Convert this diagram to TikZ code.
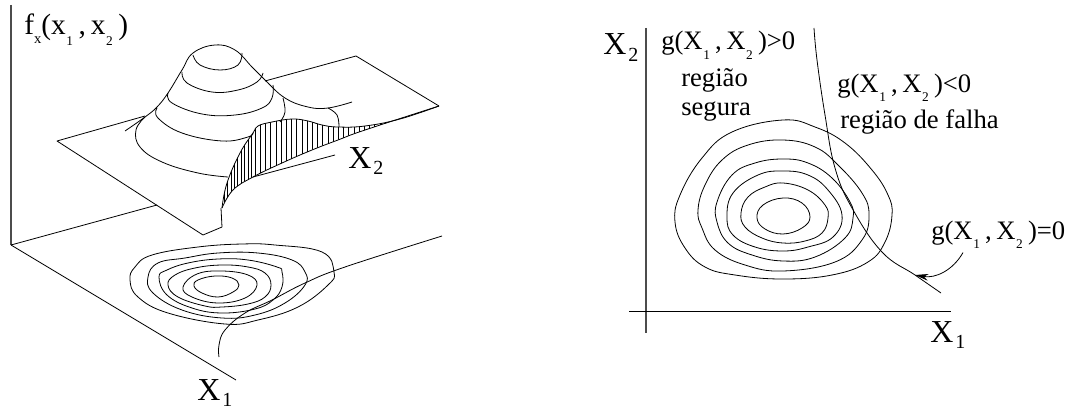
\documentclass[tikz,border=0pt]{standalone}
\usepackage{fontspec}
\setmainfont{Liberation Serif}
\usetikzlibrary{arrows.meta}
\newcommand{\idx}[1]{\kern0.5pt\raisebox{-0.35em}{\fontsize{10}{10}\selectfont #1}\kern0.5pt}
\newcommand{\bigvar}[1]{{\fontsize{24}{24}\selectfont X}\kern1.5pt\raisebox{-5pt}{\fontsize{15}{15}\selectfont #1}}
\begin{document}
\begin{tikzpicture}[
		x=0.75pt, y=-0.75pt,
		tension=0.7,
		l/.style = {line width=0.6pt, line join=round},
		ax/.style = {line width=0.9pt, draw=black!70},
		h/.style = {line width=0.4pt},
		t/.style = {anchor=base west, inner sep=0, font=\fontsize{20}{20}\selectfont},
		f/.style = {anchor=base west, inner sep=0, font=\fontsize{22}{22}\selectfont}
		]
		\useasboundingbox (0,0) rectangle (1073,410);
		
		%Nodes
		\node[f]	(fx)	at	(24, 35)	{f\raisebox{-0.3em}{\fontsize{11}{11}\selectfont x}(x\idx{1}\,,\,x\idx{2}\,)};
		\node[t]	(x2l)	at	(348, 168)	{\bigvar{2}};
		\node[t]	(x1l)	at	(197, 400)	{\bigvar{1}};
		\node[t]	(x2r)	at	(603, 55)	{\bigvar{2}};
		\node[t]	(x1r)	at	(930, 342)	{\bigvar{1}};
		\node[t]	(gpos)	at	(661, 50)	{g(X\idx{1}\,,\,X\idx{2}\,)>0};
		\node[t]	(safe1)	at	(681, 86)	{região};
		\node[t]	(safe2)	at	(681, 115)	{segura};
		\node[t]	(gneg)	at	(837, 92)	{g(X\idx{1}\,,\,X\idx{2}\,)<0};
		\node[t]	(fail)	at	(840, 128)	{região de falha};
		\node[t]	(gzero)	at	(931, 239)	{g(X\idx{1}\,,\,X\idx{2}\,)=0};
		\coordinate	(hit)	at	(915, 275);
		
		%Left axes
		\draw[ax]	(11, 5) -- (11, 245);
		\draw[l]	(11, 245) -- (157, 205);
		\draw[l]	(11, 245) -- (236, 380);
		
		%Plane
		\draw[l]	(145, 116) -- (57, 141) -- (203, 235) -- (222, 227) -- (221, 208);
		\draw[l]	(265, 81) -- (356, 56) -- (439, 106);
		\draw[l]	(335, 155) -- (253, 177);
		
		%Bell
		\draw[l]	plot[smooth] coordinates {(125,131) (145,117) (157,107) (168,93) (182,70) (193,53) (215,45) (235,50) (252,67) (265,80) (285,98) (308,107) (328,108) (352,102)};
		\draw[l]	plot[smooth] coordinates {(193,55) (200,65) (220,70) (238,65) (242,53)};
		\draw[l]	plot[smooth] coordinates {(182,72) (187,83) (212,92) (238,90) (257,82) (263,73)};
		\draw[l]	plot[smooth] coordinates {(168,93) (172,103) (202,114) (235,115) (262,108) (272,98) (273,85)};
		\draw[l]	plot[smooth] coordinates {(157,108) (158,118) (182,133) (222,141) (248,137) (253,133)};
		\draw[l]	plot[smooth] coordinates {(283,98) (285,112) (280,122)};
		\draw[l]	plot[smooth] coordinates {(145,117) (136,130) (140,147) (162,162) (198,173) (228,177)};
		\draw[l]	plot[smooth] coordinates {(328,108) (337,115) (339,127)};
		
		%Hatched cut
		\begin{scope}
			\clip plot[smooth] coordinates {(222,208) (233,190) (253,177) (282,163) (312,150) (338,140) (365,130) (439,106)}
				-- plot[smooth] coordinates {(439,106) (400,119) (365,126) (338,127) (322,125) (308,121) (292,119) (272,122) (258,126) (253,133) (240,153) (227,183) (222,208)} -- cycle;
			\foreach \i in {0,...,8}
				\draw[h]	(224+3.4*\i, 100) -- (224+3.4*\i, 212);
			\foreach \i in {0,...,32}
				\draw[h]	(255+5.2*\i, 100) -- (255+5.2*\i, 212);
		\end{scope}
		\draw[l]	plot[smooth] coordinates {(222,208) (233,190) (253,177) (282,163) (312,150) (338,140) (365,130) (439,106)};
		\draw[l]	plot[smooth] coordinates {(222,208) (227,183) (240,153) (253,133) (258,126) (272,122) (292,119) (308,121) (322,125) (338,127) (365,126) (400,119) (439,106)};
		
		%Left contours
		\draw[l]	plot[smooth cycle] coordinates {(152,255) (135,267) (130,280) (138,297) (168,313) (225,324) (258,320) (298,307) (328,285) (334,272) (322,252) (275,245) (242,244) (198,247)};
		\draw[l]	plot[smooth cycle] coordinates {(158,263) (148,277) (153,293) (182,310) (222,318) (255,315) (285,303) (305,285) (305,272) (292,260) (258,253) (218,253) (185,258)};
		\draw[l]	plot[smooth cycle] coordinates {(159,277) (167,295) (192,308) (222,313) (255,309) (273,300) (282,287) (282,272) (277,267) (248,260) (218,259) (188,263) (167,270)};
		\draw[l]	plot[smooth cycle] coordinates {(168,285) (178,297) (205,306) (222,307) (248,304) (265,297) (271,285) (265,273) (248,267) (222,265) (195,268) (175,275)};
		\draw[l]	plot[smooth cycle] coordinates {(183,287) (192,297) (218,303) (245,298) (257,285) (248,275) (222,271) (197,274)};
		\draw[l]	plot[smooth cycle] coordinates {(194,286) (202,293) (218,297) (233,292) (239,285) (232,278) (215,276) (198,280)};
		\draw[l]	plot[smooth] coordinates {(442,236) (345,267) (305,283) (272,300) (245,313) (225,330) (219,345) (219,357)};
		
		%Right axes
		\draw[ax]	(646, 28) -- (646, 333);
		\draw[l]	(629, 311) -- (951, 311);
		
		%Right contours
		\draw[l]	plot[smooth cycle] coordinates {(783,120) (815,127) (845,143) (872,170) (888,195) (892,215) (885,242) (868,262) (832,275) (782,279) (735,275) (705,267) (685,248) (675,222) (680,195) (702,158) (732,132)};
		\draw[l]	plot[smooth cycle] coordinates {(783,140) (815,147) (838,165) (862,193) (869,215) (862,240) (835,262) (783,271) (745,265) (715,250) (702,228) (698,210) (705,185) (722,160) (748,145)};
		\draw[l]	plot[smooth cycle] coordinates {(783,159) (808,163) (832,178) (850,202) (853,218) (845,238) (815,257) (783,261) (752,255) (728,243) (717,222) (717,202) (732,175) (755,163)};
		\draw[l]	plot[smooth cycle] coordinates {(783,171) (808,175) (828,190) (842,215) (833,237) (808,247) (783,251) (755,247) (733,235) (727,217) (733,193) (758,175)};
		\draw[l]	plot[smooth cycle] coordinates {(783,183) (808,190) (825,205) (828,218) (822,233) (805,241) (783,243) (762,238) (745,227) (741,213) (748,197) (765,187)};
		\draw[l]	plot[smooth cycle] coordinates {(783,198) (802,203) (810,217) (802,228) (783,234) (765,229) (757,218) (763,205)};
		\draw[l]	plot[smooth] coordinates {(814,28) (817,60) (825,115) (835,168) (852,208) (882,252) (915,275) (941,293)};
		
		%Arrow
		\draw[l, -{Stealth[length=10pt, width=5pt]}]	([xshift=24pt, yshift=-3pt]gzero.south west) to[bend left=35] (hit);
	\end{tikzpicture}
\end{document}
